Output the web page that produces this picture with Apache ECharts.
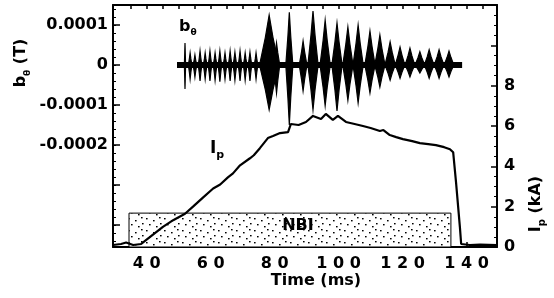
<!DOCTYPE html>
<html>
<head>
<meta charset="utf-8">
<script src="https://cdn.jsdelivr.net/npm/echarts@6/dist/echarts.min.js"></script>
<style>
  html, body { margin: 0; padding: 0; background: #fff; }
  #chart { width: 554px; height: 298px; }
</style>
</head>
<body>
<div id="chart"></div>
<script>
// time axis
var xLabelVals = [40, 60, 80, 100, 120, 140];

// left axis, b_theta (T)
var bLabelVals = [-0.0002, -0.0001, 0, 0.0001];
var bLabelText = ['-0.0002', '-0.0001', '0', '0.0001'];

// b_theta bursts, amplitudes in units of 1e-4 T
var B_UNIT = 1e-4;
var bStart = 49.5, bEnd = 138.6;
var bT   = [52.0, 53.6, 55.1, 56.7, 58.3, 59.8, 61.4, 62.9, 64.5, 66.1, 67.6, 69.2, 70.8, 72.3, 74.2,
            78.3, 80.6, 84.6, 88.9, 92.0, 95.8, 99.5, 102.9, 106.1, 109.8, 112.9, 116.1, 119.2, 122.3, 125.4, 128.3, 131.4, 134.5];
var bTop = [0.55, 0.3, 0.25, 0.35, 0.3, 0.35, 0.3, 0.35, 0.3, 0.35, 0.32, 0.35, 0.3, 0.32, 0.3,
            1.25, 0.55, 1.32, 0.6, 1.35, 1.12, 1.05, 0.95, 1.0, 0.85, 0.75, 0.58, 0.45, 0.42, 0.33, 0.38, 0.38, 0.35];
var bBot = [-0.6, -0.35, -0.3, -0.4, -0.35, -0.4, -0.38, -0.42, -0.35, -0.4, -0.38, -0.4, -0.38, -0.4, -0.35,
            -1.12, -0.7, -1.5, -0.65, -1.12, -1.02, -1.15, -0.88, -0.95, -0.7, -0.55, -0.38, -0.33, -0.3, -0.2, -0.33, -0.33, -0.3];
var bDur = [0.4, 1.1, 1.1, 1.1, 1.1, 1.1, 1.1, 1.1, 1.1, 1.1, 1.1, 1.1, 1.1, 1.1, 1.1,
            6.0, 2.0, 2.2, 2.4, 3.2, 3.2, 3.2, 3.2, 3.2, 3.2, 3.2, 3.2, 3.0, 3.0, 3.0, 3.0, 3.0, 3.0];

// plasma current I_p (kA)
var ipT = [29.5, 32, 33.6, 35.8, 38.3, 41.1, 45.1, 48.3, 52, 54.5, 57.6, 60.8, 63, 65.4, 67, 69.2, 72.3, 73.5, 75.4, 77.9,
           79.5, 81.7, 84.2, 85.1, 87.5, 89.8, 92, 94.5, 96, 98.2, 99.8, 102.3, 105, 107.6, 110, 112.9, 114, 116, 118, 120.1,
           123, 125.4, 128, 130.4, 133, 134.8, 135.8, 136.7, 137.9, 138.3, 141, 144.2, 149.5];
var ipV = [0.1, 0.15, 0.22, 0.1, 0.15, 0.5, 1.0, 1.33, 1.65, 2.0, 2.45, 2.9, 3.1, 3.45, 3.65, 4.05, 4.4, 4.55, 4.9, 5.4,
           5.5, 5.65, 5.7, 6.1, 6.05, 6.2, 6.5, 6.35, 6.6, 6.3, 6.5, 6.2, 6.1, 6.0, 5.9, 5.75, 5.8, 5.55, 5.45, 5.35,
           5.25, 5.15, 5.1, 5.05, 4.95, 4.85, 4.7, 3.2, 1.0, 0.15, 0.1, 0.12, 0.1];

// NBI window
var nbiT = [34.5, 135.1];
var nbiLevel = 1.68;

var FONT = 'DejaVu Sans';

var bData = bT.map(function (t, i) {
  return [t, bTop[i] * B_UNIT, bBot[i] * B_UNIT, bDur[i]];
});
var ipData = ipT.map(function (t, i) { return [t, ipV[i]]; });

// tick positions
var xMin = 29.5, xMax = 149.5;
var bMin = -0.000455, bMax = 0.00015;
var bMajor = [-0.0004, -0.0003, -0.0002, -0.0001, 0, 0.0001];
var bMinor = [];
for (var k = -22; k <= 7; k++) bMinor.push(k * 0.00002);
var topTicks = [];
for (var t = 35; t <= 145; t += 5) topTicks.push(t);
var bottomTicks = [40, 50, 60, 70, 80, 90, 100, 110, 120, 130, 140];

// dotted fill for the NBI box
var pat = document.createElement('canvas');
pat.width = 18; pat.height = 12;
var pc = pat.getContext('2d');
pc.fillStyle = '#fff'; pc.fillRect(0, 0, 18, 12);
pc.fillStyle = '#000';
[[2, 2], [9, 4], [15, 1], [5, 8], [12, 10], [16, 7]].forEach(function (d) {
  pc.fillRect(d[0], d[1], 1.6, 1.4);
});

function renderBurst(params, api) {
  var t = api.value(0), top = api.value(1), bot = api.value(2), d = api.value(3);
  var c = api.coord([t, 0]);
  var l = api.coord([t - d / 2, 0]);
  var r = api.coord([t + d / 2, 0]);
  var pt = api.coord([t, top]);
  var pb = api.coord([t, bot]);
  var w = (r[0] - l[0]) / 2;
  var pts = [
    [l[0], c[1]],
    [c[0] - w * 0.4, c[1] + (pt[1] - c[1]) * 0.55],
    [pt[0], pt[1]],
    [c[0] + w * 0.4, c[1] + (pt[1] - c[1]) * 0.55],
    [r[0], c[1]],
    [c[0] + w * 0.4, c[1] + (pb[1] - c[1]) * 0.55],
    [pb[0], pb[1]],
    [c[0] - w * 0.4, c[1] + (pb[1] - c[1]) * 0.55]
  ];
  return {
    type: 'polygon',
    shape: { points: pts },
    style: { fill: '#000', stroke: '#000', lineWidth: 1.2 }
  };
}

var labelStyle = { color: '#000', fontFamily: FONT, fontWeight: 'bold', fontSize: 16 };

var chart = echarts.init(document.getElementById('chart'));
var option = {
  backgroundColor: '#fff',
  animation: false,
  grid: { left: 113, right: 57, top: 5, bottom: 51, containLabel: false, outerBoundsMode: 'none' },
  xAxis: [
    {
      type: 'value', position: 'bottom', min: xMin, max: xMax,
      axisLine: { onZero: false, lineStyle: { color: '#000', width: 2 } },
      axisTick: { inside: true, length: 5, customValues: bottomTicks, lineStyle: { color: '#000', width: 1.5 } },
      axisLabel: Object.assign({
        customValues: xLabelVals, margin: 9,
        formatter: function (v) { return String(v).split('').join(' '); }
      }, labelStyle),
      splitLine: { show: false }
    },
    {
      type: 'value', position: 'top', min: xMin, max: xMax,
      axisLine: { onZero: false, lineStyle: { color: '#000', width: 2 } },
      axisTick: { inside: true, length: 4, customValues: topTicks, lineStyle: { color: '#000', width: 1.5 } },
      axisLabel: { show: false },
      splitLine: { show: false }
    }
  ],
  yAxis: [
    {
      type: 'value', position: 'left', min: bMin, max: bMax,
      axisLine: { onZero: false, lineStyle: { color: '#000', width: 2 } },
      axisTick: { inside: true, length: 7, customValues: bMajor, lineStyle: { color: '#000', width: 1.5 } },
      axisLabel: Object.assign({
        customValues: bLabelVals, margin: 5,
        formatter: function (v) {
          for (var i = 0; i < bLabelVals.length; i++) {
            if (Math.abs(v - bLabelVals[i]) < 1e-9) return bLabelText[i];
          }
          return '';
        }
      }, labelStyle),
      splitLine: { show: false }
    },
    {
      type: 'value', position: 'right', min: 0, max: 12, interval: 2,
      axisLine: { onZero: false, lineStyle: { color: '#000', width: 2 } },
      axisTick: { inside: true, length: 6, lineStyle: { color: '#000', width: 1.5 } },
      minorTick: { show: true, splitNumber: 4, length: 3, lineStyle: { color: '#000', width: 1 } },
      axisLabel: Object.assign({
        margin: 7,
        formatter: function (v) { return v <= 8 ? String(v) : ''; }
      }, labelStyle),
      splitLine: { show: false },
      minorSplitLine: { show: false }
    },
    {
      type: 'value', position: 'left', min: bMin, max: bMax,
      axisLine: { show: false, onZero: false },
      axisTick: { inside: true, length: 3, customValues: bMinor, lineStyle: { color: '#000', width: 1 } },
      axisLabel: { show: false },
      splitLine: { show: false }
    }
  ],
  series: [
    {
      name: 'b_theta baseline',
      type: 'line',
      xAxisIndex: 0, yAxisIndex: 0,
      data: [[bStart, 0], [bEnd, 0]],
      symbol: 'none',
      lineStyle: { color: '#000', width: 6 },
      z: 2
    },
    {
      name: 'b_theta',
      type: 'custom',
      xAxisIndex: 0, yAxisIndex: 0,
      data: bData,
      encode: { x: 0, y: [1, 2] },
      renderItem: renderBurst,
      z: 3
    },
    {
      name: 'Ip',
      type: 'line',
      xAxisIndex: 0, yAxisIndex: 1,
      data: ipData,
      symbol: 'none',
      lineStyle: { color: '#000', width: 2.2 },
      z: 4,
      markArea: {
        silent: true,
        itemStyle: { color: { image: pat, repeat: 'repeat' }, borderColor: '#000', borderWidth: 1 },
        label: Object.assign({ show: true, position: 'inside', offset: [8, -4], formatter: 'NBI' }, labelStyle),
        data: [[{ xAxis: nbiT[0], yAxis: 0 }, { xAxis: nbiT[1], yAxis: nbiLevel }]]
      }
    }
  ],
  graphic: [
    {
      type: 'text', left: 179, top: 19,
      style: {
        text: '{n|b}{s|θ}',
        rich: {
          n: { fontFamily: FONT, fontWeight: 'bold', fontSize: 16, lineHeight: 20, fill: '#000' },
          s: { fontFamily: FONT, fontWeight: 'bold', fontSize: 9, verticalAlign: 'bottom', fill: '#000' }
        }
      }
    },
    {
      type: 'text', left: 210, top: 140,
      style: {
        text: '{n|I}{s|p}',
        rich: {
          n: { fontFamily: FONT, fontWeight: 'bold', fontSize: 17, lineHeight: 24, fill: '#000' },
          s: { fontFamily: FONT, fontWeight: 'bold', fontSize: 11, verticalAlign: 'bottom', fill: '#000' }
        }
      }
    },
    {
      type: 'text', x: 316, y: 281,
      style: {
        text: 'Time (ms)', align: 'center', verticalAlign: 'middle',
        fontFamily: FONT, fontWeight: 'bold', fontSize: 16, fill: '#000'
      }
    },
    {
      type: 'text', x: 21, y: 63, rotation: Math.PI / 2,
      style: {
        text: '{n|b}{s|θ}{n| (T)}', align: 'center', verticalAlign: 'middle',
        rich: {
          n: { fontFamily: FONT, fontWeight: 'bold', fontSize: 16, lineHeight: 22, fill: '#000' },
          s: { fontFamily: FONT, fontWeight: 'bold', fontSize: 9, verticalAlign: 'bottom', fill: '#000' }
        }
      }
    },
    {
      type: 'text', x: 536, y: 204, rotation: Math.PI / 2,
      style: {
        text: '{n|I}{s|p}{n| (kA)}', align: 'center', verticalAlign: 'middle',
        rich: {
          n: { fontFamily: FONT, fontWeight: 'bold', fontSize: 16, lineHeight: 22, fill: '#000' },
          s: { fontFamily: FONT, fontWeight: 'bold', fontSize: 10, verticalAlign: 'bottom', fill: '#000' }
        }
      }
    }
  ]
};
chart.setOption(option);
</script>
</body>
</html>
